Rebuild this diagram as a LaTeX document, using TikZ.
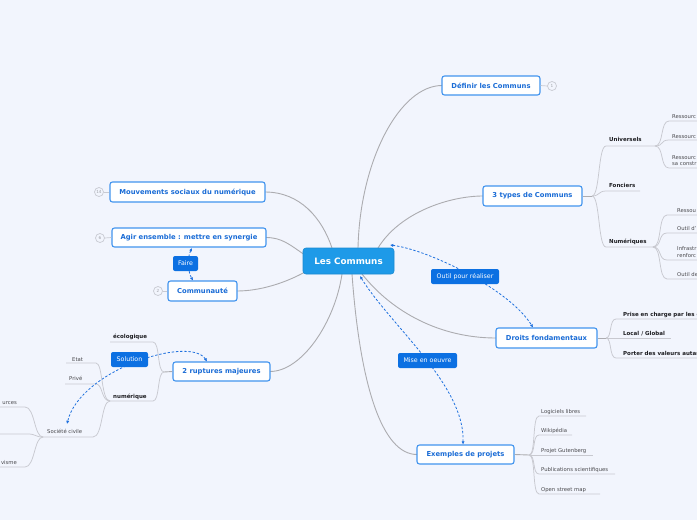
\documentclass[tikz,border=0pt]{standalone}
\usepackage{fontspec}
\setmainfont{DejaVu Sans}
\usetikzlibrary{arrows.meta}
\definecolor{bg}{RGB}{242,245,253}
\definecolor{tborder}{RGB}{66,148,238}
\definecolor{ttext}{RGB}{26,108,214}
\definecolor{cfill}{RGB}{30,154,232}
\definecolor{lfill}{RGB}{12,112,226}
\definecolor{rel}{RGB}{30,112,222}
\definecolor{branchc}{RGB}{172,172,176}
\definecolor{subc}{RGB}{200,201,208}
\definecolor{subtext}{RGB}{30,30,34}
\definecolor{leaftext}{RGB}{72,72,76}
\definecolor{badgec}{RGB}{200,202,210}
\tikzset{
  topic/.style 2 args={draw=tborder, fill=white, line width=1.1pt, rounded corners=2.5pt,
    text=ttext, font=\bfseries\fontsize{6.8}{8}\selectfont, inner sep=0pt,
    minimum width=#1, minimum height=#2},
  centre/.style={draw=cfill!90!black, fill=cfill, line width=0.6pt, rounded corners=3pt,
    text=white, font=\bfseries\fontsize{8.8}{10}\selectfont, inner sep=0pt,
    minimum width=91pt, minimum height=26pt},
  tag/.style 2 args={fill=lfill, rounded corners=2pt, text=white,
    font=\fontsize{6.3}{7}\selectfont, inner sep=0pt, minimum width=#1, minimum height=#2},
  badge/.style={circle, draw=badgec, fill=bg, line width=0.7pt, minimum size=9pt, inner sep=0pt,
    text=badgec!80!black, font=\fontsize{4.2}{5}\selectfont},
  badgeline/.style={draw=badgec, line width=0.7pt},
  branch/.style={draw=branchc, line width=0.9pt},
  subline/.style={draw=subc, line width=0.75pt},
  subtxt/.style={text=subtext, font=\bfseries\fontsize{5.5}{6.5}\selectfont, inner sep=0pt},
  leaf/.style={text=leaftext, font=\fontsize{5.3}{6.5}\selectfont, inner sep=0pt},
  relation/.style={draw=rel, line width=0.8pt, dash pattern=on 2.4pt off 1.8pt,
    {Latex[length=3.2pt,width=3.2pt]}-{Latex[length=3.2pt,width=3.2pt]}},
}
\begin{document}
\begin{tikzpicture}[x=1pt,y=-1pt]
\useasboundingbox (0,0) rectangle (697,520);
\fill[bg] (0,0) rectangle (697,520);
\clip (0,0) rectangle (697,520);

% ---------- branches from centre (drawn first) ----------
\coordinate (sDef) at (358,248);
\coordinate (sT3) at (378,248);
\coordinate (sMv) at (332,248);
\coordinate (sAg) at (303.5,254);
\coordinate (sCm) at (305,272);
\coordinate (sRup) at (342,274);
\coordinate (sEx) at (352,274);
\coordinate (sDr) at (362,274);
\coordinate (defW) at (442,85.5);
\coordinate (t3W) at (483,196);
\coordinate (mvE) at (265,192);
\coordinate (agE) at (266,237.5);
\coordinate (cmE) at (237,291);
\coordinate (rupE) at (270,371.5);
\coordinate (exW) at (417,454.5);
\coordinate (drW) at (496,338);
\draw[branch] (sDef) .. controls (360,160) and (400,85.5) .. (defW);
\draw[branch] (sT3) .. controls (400,212) and (450,196) .. (t3W);
\draw[branch] (sMv) .. controls (322,218) and (300,192) .. (mvE);
\draw[branch] (sAg) .. controls (290,245) and (282,237.5) .. (agE);
\draw[branch] (sCm) .. controls (285,283) and (260,291) .. (cmE);
\draw[branch] (sRup) .. controls (335,322) and (302,371.5) .. (rupE);
\draw[branch] (sEx) .. controls (360,385) and (382,454.5) .. (exW);
\draw[branch] (sDr) .. controls (392,312) and (440,338) .. (drW);

% ---------- main topics ----------
\node[centre] (lc) at (348.5,261) {Les Communs};
\node[topic={98pt}{19pt}] (def) at (491,85.5) {Définir les Communs};
\node[topic={99pt}{20pt}] (t3) at (532.5,196) {3 types de Communs};
\node[topic={101pt}{20pt}] (dr) at (546.5,338) {Droits fondamentaux};
\node[topic={97pt}{19pt}] (ex) at (465.5,454.5) {Exemples de projets};
\node[topic={155pt}{20pt}] (mv) at (187.5,192) {Mouvements sociaux du numérique};
\node[topic={154pt}{19pt}] (ag) at (189,237.5) {Agir ensemble : mettre en synergie};
\node[topic={69pt}{20pt}] (cm) at (202.5,291) {Communauté};
\node[topic={97pt}{19pt}] (rup) at (221.5,371.5) {2 ruptures majeures};

% badges
\node[badge] (b1) at (552,86) {1};
\node[badge] (b14) at (99,192) {14};
\node[badge] (b6) at (100,238) {6};
\node[badge] (b2) at (158,291) {2};
\draw[badgeline] (def.east) -- (b1.west);
\draw[badgeline] (mv.west) -- (b14.east);
\draw[badgeline] (ag.west) -- (b6.east);
\draw[badgeline] (cm.west) -- (b2.east);

% ---------- 3 types de Communs ----------
\coordinate (t3f) at (592,196);
\draw[branch] (t3.east) -- (t3f);
\draw[subline] (t3f) .. controls (600,196) and (598,146) .. (606,146) -- (655,146) coordinate (uE);
\draw[subline] (t3f) .. controls (600,196) and (598,191) .. (606,191) -- (640,191);
\draw[subline] (t3f) .. controls (600,196) and (598,247) .. (606,247) -- (653,247) coordinate (nE);
\node[subtxt, anchor=base west] (univ) at (609,141.5) {Universels};
\node[subtxt, anchor=base west] (fonc) at (609,187.5) {Fonciers};
\node[subtxt, anchor=base west] (numq) at (609,243.5) {Numériques};

\foreach \y in {121,140,168}{
  \draw[subline] (uE) .. controls (664,146) and (660,\y) .. (669,\y) -- (700,\y);
}
\node[leaf, anchor=base west] (r1) at (672,118) {Ressourc};
\node[leaf, anchor=base west] (r2) at (672,138) {Ressourc};
\node[leaf, anchor=base west] (r3) at (672,159) {Ressourc};
\node[leaf, anchor=base west] (r3b) at (672,165.5) {sa constr};

\foreach \y in {215,233,260,279}{
  \draw[subline] (nE) .. controls (662,247) and (658,\y) .. (667,\y) -- (700,\y);
}
\node[leaf, anchor=base west] (n1) at (677,212) {Ressou};
\node[leaf, anchor=base west] (n2) at (677,230) {Outil d'};
\node[leaf, anchor=base west] (n3) at (677,250.5) {Infrastr};
\node[leaf, anchor=base west] (n3b) at (677,257) {renforc};
\node[leaf, anchor=base west] (n4) at (677,276.5) {Outil de};

% ---------- Droits fondamentaux ----------
\coordinate (drf) at (606,338);
\draw[branch] (dr.east) -- (drf);
\draw[subline] (drf) .. controls (612,338) and (609,319) .. (616,319) -- (700,319);
\draw[subline] (drf) -- (671,338);
\draw[subline] (drf) .. controls (612,338) and (609,358) .. (616,358) -- (700,358);
\node[subtxt, anchor=base west] (d1) at (623,316) {Prise en charge par les c};
\node[subtxt, anchor=base west] (d2) at (623,335.5) {Local / Global};
\node[subtxt, anchor=base west] (d3) at (623,355.5) {Porter des valeurs autar};

% ---------- Exemples de projets ----------
\coordinate (exf) at (529,455);
\draw[branch] (ex.east) -- (exf);
\draw[subline] (exf) .. controls (536,455) and (532,416) .. (539,416) -- (586,416);
\draw[subline] (exf) .. controls (536,455) and (532,435) .. (539,435) -- (572,435);
\draw[subline] (exf) -- (593,455);
\draw[subline] (exf) .. controls (536,455) and (532,474) .. (539,474) -- (615,474);
\draw[subline] (exf) .. controls (536,455) and (532,494) .. (539,494) -- (600,494);
\node[leaf, anchor=base west] (e1) at (541,413) {Logiciels libres};
\node[leaf, anchor=base west] (e2) at (541,432) {Wikipédia};
\node[leaf, anchor=base west] (e3) at (541,452) {Projet Gutenberg};
\node[leaf, anchor=base west] (e4) at (541,471) {Publications scientifiques};
\node[leaf, anchor=base west] (e5) at (541,491) {Open street map};

% ---------- 2 ruptures majeures ----------
\coordinate (ruf) at (164,372);
\draw[branch] (rup.west) -- (ruf);
\draw[subline] (ruf) .. controls (157,372) and (160,342) .. (153,342) -- (110,342);
\draw[subline] (ruf) .. controls (157,372) and (160,401) .. (153,401) -- (110,401) coordinate (nuf);
\node[subtxt, anchor=base west] (eco) at (113,338.5) {écologique};
\node[subtxt, anchor=base west] (num) at (113,398) {numérique};

\draw[subline] (nuf) .. controls (101,401) and (103,363) .. (96,363) -- (66,363);
\draw[subline] (nuf) .. controls (101,401) and (103,384) .. (96,384) -- (65,384);
\draw[subline] (nuf) .. controls (101,401) and (103,437) .. (93,437) -- (43,437) coordinate (scf);
\node[leaf, anchor=base west] (etat) at (72,361) {Etat};
\node[leaf, anchor=base west] (prive) at (69,380.5) {Privé};
\node[leaf, anchor=base west] (soc) at (47,433.5) {Société civile};

\draw[subline] (scf) .. controls (34,437) and (35,407) .. (25,407) -- (-5,407);
\draw[subline] (scf) .. controls (35,437) and (36,434) .. (28,434) -- (-5,434);
\draw[subline] (scf) .. controls (34,437) and (35,467) .. (25,467) -- (-5,467);
\node[leaf, anchor=base east] (lt1) at (17,404) {urces};
\node[leaf, anchor=base east] (lt3) at (17,464) {visme};

% ---------- relations (dashed) ----------
\coordinate (oA) at (390,245);
\coordinate (oB) at (533,327.5);
\draw[relation] (oA) .. controls (430,250) and (510,290) .. (oB);
\coordinate (mA) at (360,276);
\coordinate (mB) at (463,444.5);
\draw[relation] (mA) .. controls (390,325) and (465,385) .. (mB);
\coordinate (fA) at (192,248);
\coordinate (fB) at (193,280.5);
\draw[relation] (fA) .. controls (187,258) and (188,272) .. (fB);
\coordinate (sA) at (207,361.5);
\coordinate (sB) at (67,424);
\draw[relation] (sA) .. controls (190,335) and (80,370) .. (sB);

\node[tag={68pt}{15pt}] (outil) at (465,276.5) {Outil pour réaliser};
\node[tag={59pt}{15pt}] (mise) at (427.5,360.5) {Mise en oeuvre};
\node[tag={25pt}{15pt}] (faire) at (185.5,263.5) {Faire};
\node[tag={37pt}{15pt}] (sol) at (129.5,359.5) {Solution};
\end{tikzpicture}
\end{document}
